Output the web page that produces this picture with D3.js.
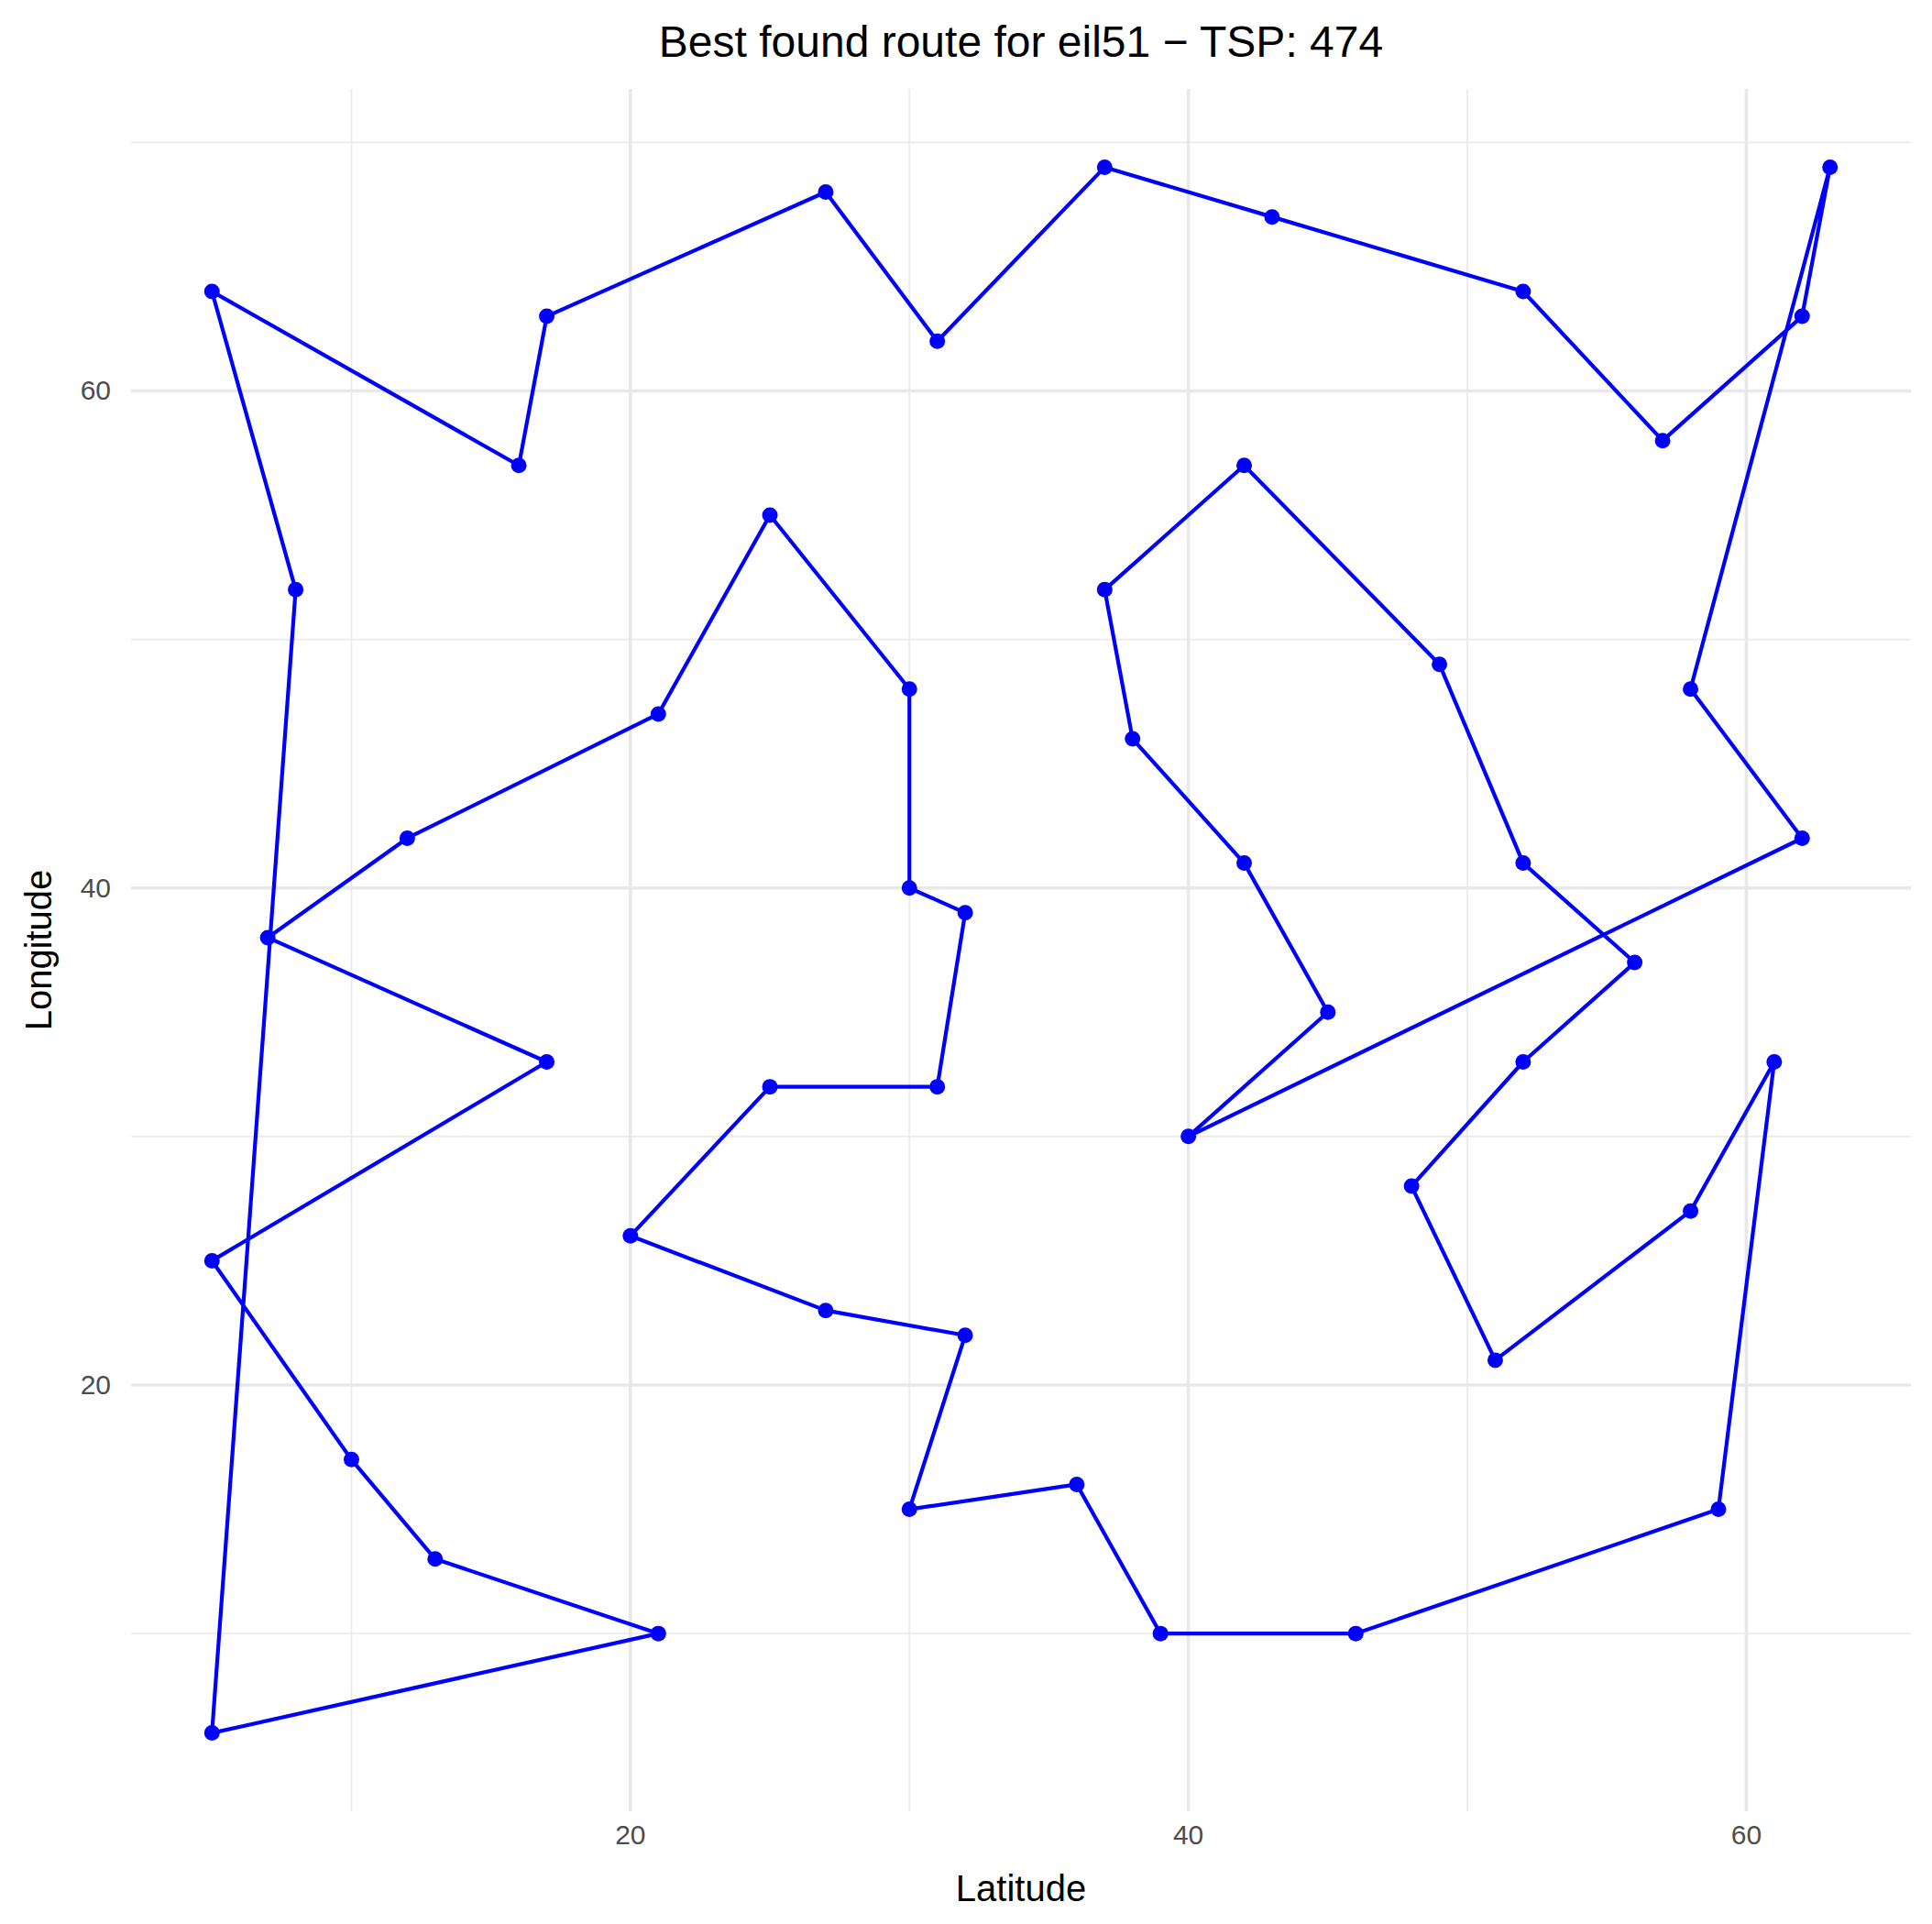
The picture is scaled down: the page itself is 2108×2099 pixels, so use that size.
<!DOCTYPE html>
<html><head><meta charset="utf-8">
<script src="https://cdn.jsdelivr.net/npm/d3@7"></script>
<style>body{margin:0;background:#fff}</style></head>
<body><svg id="c" width="2108" height="2099"></svg>
<script>
const routeX=[5,16,17,27,31,37,43,52,57,62,63,58,62,40,45,42,38,37,42,49,52,56,52,48,51,58,61,59,46,39,36,30,32,27,20,25,31,32,30,30,25,21,12,7,17,5,10,13,21,5,8];
const routeY=[64,57,63,68,62,69,67,64,58,63,69,48,42,30,35,41,46,52,57,49,41,37,33,28,21,27,33,15,10,10,16,15,22,23,26,32,32,39,40,48,55,47,42,38,33,25,17,13,10,6,52];
const xTicks=[20,40,60], yTicks=[20,40,60];
const xMinor=[10,30,50], yMinor=[10,30,50,70];
const title="Best found route for eil51 − TSP: 474";

const svg=d3.select("#c");
const L=143,R=2085,T=97,B=1976;
const x=d3.scaleLinear().domain([2.1,65.9]).range([L,R]);
const y=d3.scaleLinear().domain([2.85,72.15]).range([B,T]);
const g=svg.append("g");
xMinor.forEach(v=>g.append("line").attr("x1",x(v)).attr("x2",x(v)).attr("y1",T).attr("y2",B).attr("stroke","#ebebeb").attr("stroke-width",1.8));
yMinor.forEach(v=>g.append("line").attr("y1",y(v)).attr("y2",y(v)).attr("x1",L).attr("x2",R).attr("stroke","#ebebeb").attr("stroke-width",1.8));
xTicks.forEach(v=>g.append("line").attr("x1",x(v)).attr("x2",x(v)).attr("y1",T).attr("y2",B).attr("stroke","#e8e8e8").attr("stroke-width",3.6));
yTicks.forEach(v=>g.append("line").attr("y1",y(v)).attr("y2",y(v)).attr("x1",L).attr("x2",R).attr("stroke","#e8e8e8").attr("stroke-width",3.6));
const pts=routeX.map((v,i)=>[v,routeY[i]]);
g.append("path").attr("d",d3.line().x(d=>x(d[0])).y(d=>y(d[1]))(pts.concat([pts[0]])))
 .attr("fill","none").attr("stroke","#0000ff").attr("stroke-width",4.2).attr("stroke-linejoin","round");
g.selectAll("circle").data(pts).join("circle").attr("cx",d=>x(d[0])).attr("cy",d=>y(d[1])).attr("r",8.5).attr("fill","#0000ff");
const f="Liberation Sans, Arial, sans-serif";
xTicks.forEach(v=>svg.append("text").attr("x",x(v)).attr("y",B+36).attr("text-anchor","middle").attr("font-family",f).attr("font-size",30).attr("fill","#4d4d4d").text(v));
yTicks.forEach(v=>svg.append("text").attr("x",L-22).attr("y",y(v)+10).attr("text-anchor","end").attr("font-family",f).attr("font-size",30).attr("fill","#4d4d4d").text(v));
svg.append("text").attr("x",(L+R)/2).attr("y",2074).attr("text-anchor","middle").attr("font-family",f).attr("font-size",40).text("Latitude");
svg.append("text").attr("transform",`translate(56,${(T+B)/2}) rotate(-90)`).attr("text-anchor","middle").attr("font-family",f).attr("font-size",40).text("Longitude");
svg.append("text").attr("x",(L+R)/2).attr("y",62).attr("text-anchor","middle").attr("font-family",f).attr("font-size",48).text(title);
</script></body></html>
